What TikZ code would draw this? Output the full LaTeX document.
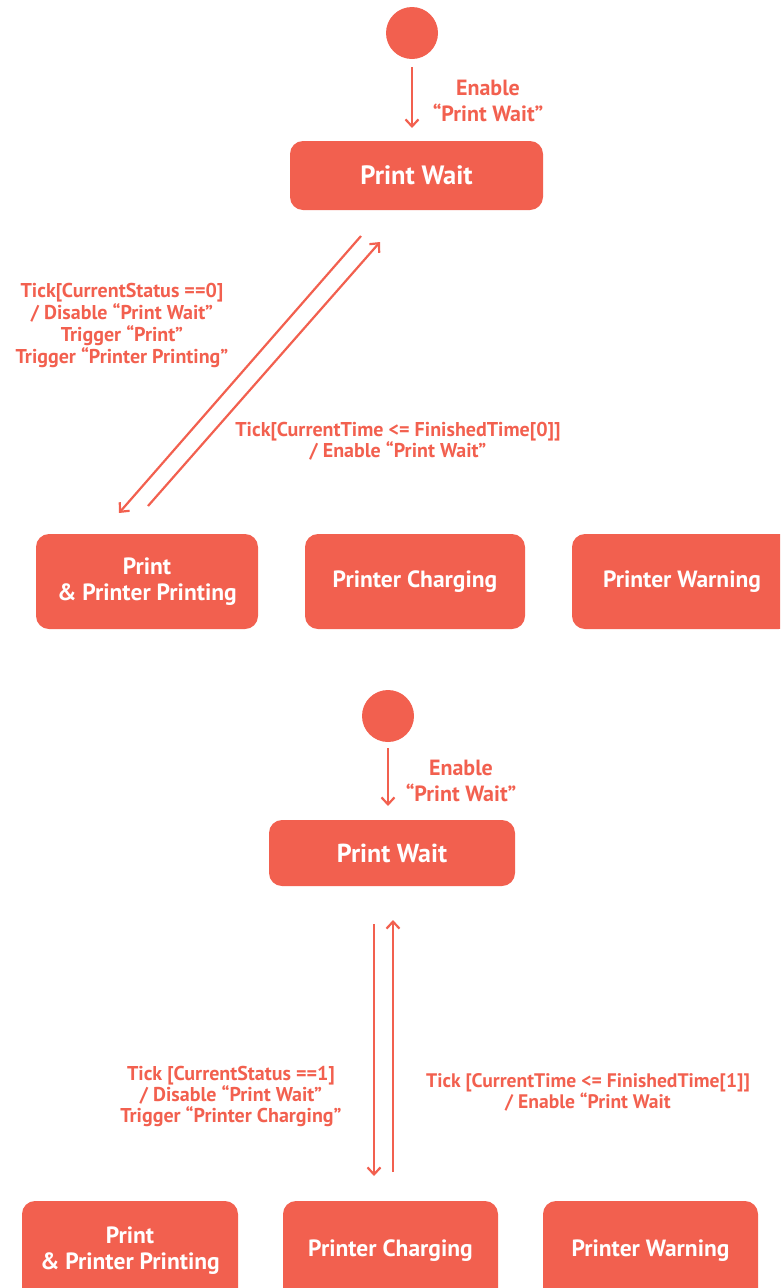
\documentclass[tikz,border=0pt]{standalone}
\usepackage{fontspec}
\setmainfont{PT Sans}
\usetikzlibrary{arrows.meta}
\definecolor{coral}{HTML}{F2604F}
\tikzset{
  x=1pt, y=-1pt,
  state/.style={fill=coral, rounded corners=13pt, text=white, font=\bfseries\fontsize{23.5}{26}\selectfont, align=center, inner sep=0pt},
  initial/.style={circle, fill=coral, minimum size=52pt, inner sep=0pt},
  lbl/.style={text=coral, font=\bfseries\fontsize{20}{22}\selectfont, align=center, inner sep=0pt},
  conn/.style={draw=coral, line width=2.2pt, -{Straight Barb[length=7pt,width=13pt,line width=2.2pt]}},
}
\begin{document}
\begin{tikzpicture}
\useasboundingbox (0,0) rectangle (780,1288);
\clip (0,0) rectangle (780,1288);
% ---------- top diagram ----------
\node[initial] (i1) at (412,33) {};
\node[state, minimum width=253pt, minimum height=69pt, font=\bfseries\fontsize{26.5}{30}\selectfont] (pw1) at (416.5,175.5) {Print Wait};
\node[state, minimum width=222pt, minimum height=95pt] (pp1) at (147,581.5) {Print\\\& Printer Printing};
\node[state, minimum width=220pt, minimum height=95pt] (pc1) at (415,581.5) {Printer Charging};
\node[state, minimum width=220pt, minimum height=95pt] (pwn1) at (682,581.5) {Printer Warning};
\coordinate (a1s) at (412,67);
\coordinate (a1e) at (412,128);
\draw[conn] (a1s) -- (a1e);
\node[lbl, font=\bfseries\fontsize{22}{26}\selectfont] (l1) at (488,101) {Enable\\“Print Wait”};
\coordinate (d1s) at (361,236);
\coordinate (d1e) at (119,513);
\coordinate (u1s) at (148,506);
\coordinate (u1e) at (380,242);
\draw[conn] (d1s) -- (d1e);
\draw[conn] (u1s) -- (u1e);
\node[lbl] (l2) at (122,325) {Tick[CurrentStatus ==0]\\/ Disable “Print Wait”\\Trigger “Print”\\Trigger “Printer Printing”};
\node[lbl, font=\bfseries\fontsize{20}{21}\selectfont] (l3) at (398,441.5) {Tick[CurrentTime <= FinishedTime[0]]\\/ Enable “Print Wait”};
% ---------- bottom diagram ----------
\node[initial] (i2) at (388,716) {};
\node[state, minimum width=246pt, minimum height=66pt, font=\bfseries\fontsize{26}{30}\selectfont] (pw2) at (392,853) {Print Wait};
\node[state, minimum width=216pt, minimum height=100pt] (pp2) at (130,1251) {Print\\\& Printer Printing};
\node[state, minimum width=215pt, minimum height=100pt] (pc2) at (390.5,1251) {Printer Charging};
\node[state, minimum width=215pt, minimum height=100pt] (pwn2) at (650.5,1251) {Printer Warning};
\coordinate (a2s) at (388,748);
\coordinate (a2e) at (388,806);
\draw[conn] (a2s) -- (a2e);
\node[lbl, font=\bfseries\fontsize{22}{26}\selectfont] (l4) at (461,781) {Enable\\“Print Wait”};
\coordinate (d2s) at (374,924);
\coordinate (d2e) at (374,1176);
\coordinate (u2s) at (393,1172);
\coordinate (u2e) at (393,920);
\draw[conn] (d2s) -- (d2e);
\draw[conn] (u2s) -- (u2e);
\node[lbl, font=\bfseries\fontsize{20}{21}\selectfont] (l5) at (231,1096) {Tick [CurrentStatus ==1]\\/ Disable “Print Wait”\\Trigger “Printer Charging”};
\node[lbl, font=\bfseries\fontsize{19.6}{21}\selectfont] (l6) at (588,1092.5) {Tick [CurrentTime <= FinishedTime[1]]\\/ Enable “Print Wait};
\end{tikzpicture}
\end{document}
